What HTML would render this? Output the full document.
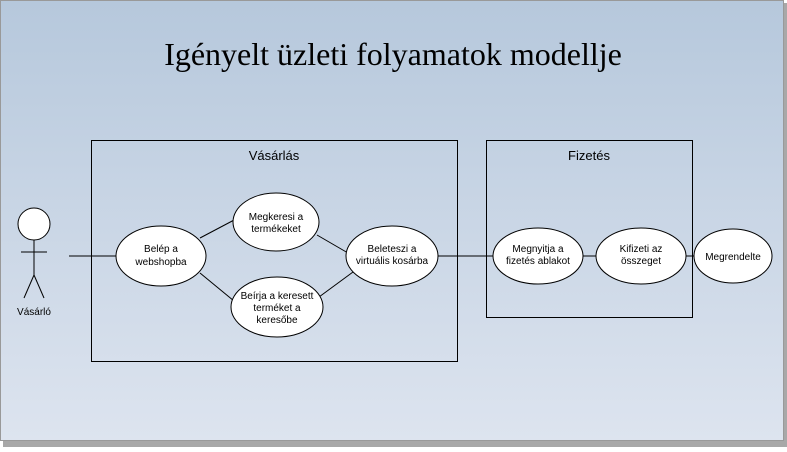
<!DOCTYPE html>
<html><head><meta charset="utf-8"><style>
html,body{margin:0;padding:0;background:#fff;}
</style></head><body>
<svg width="787" height="447" xmlns="http://www.w3.org/2000/svg" font-family="Liberation Sans, sans-serif">
<defs><linearGradient id="g" x1="0" y1="0" x2="0" y2="1">
<stop offset="0" stop-color="#b6c8dc"/><stop offset="1" stop-color="#dde4ef"/></linearGradient></defs>
<rect x="3" y="3" width="784" height="444" fill="#a8a8a8"/>
<rect x="0.5" y="0.5" width="783" height="440" fill="url(#g)" stroke="#999"/>
<text x="393" y="65" text-anchor="middle" font-family="Liberation Serif, serif" font-size="32" fill="#000">Igényelt üzleti folyamatok modellje</text>
<g fill="none" stroke="#000" stroke-width="1">
<rect x="91.5" y="140.5" width="366" height="221"/>
<rect x="486.5" y="140.5" width="206" height="177"/>
<line x1="69" y1="256" x2="117" y2="256"/>
<line x1="200" y1="238" x2="236" y2="219"/>
<line x1="200" y1="273" x2="234" y2="301"/>
<line x1="317" y1="235" x2="348" y2="253"/>
<line x1="319" y1="297" x2="353" y2="272"/>
<line x1="438" y1="256" x2="493" y2="256"/>
<line x1="583" y1="256" x2="596" y2="256"/>
<line x1="686" y1="256" x2="694" y2="256"/>
<circle cx="34" cy="224" r="16" fill="#fff"/>
<line x1="34" y1="240" x2="34" y2="275"/>
<line x1="21" y1="252" x2="47" y2="252"/>
<line x1="34" y1="275" x2="24" y2="298"/>
<line x1="34" y1="275" x2="44" y2="298"/>
</g>
<g fill="#fff" stroke="#000">
<ellipse cx="161" cy="256" rx="45" ry="30"/>
<ellipse cx="276" cy="222" rx="43" ry="29"/>
<ellipse cx="277" cy="307" rx="46" ry="30"/>
<ellipse cx="392" cy="256" rx="46" ry="30"/>
<ellipse cx="538" cy="256" rx="45" ry="28"/>
<ellipse cx="641" cy="256" rx="45" ry="28"/>
<ellipse cx="733" cy="256" rx="39" ry="27"/>
</g>
<g font-size="10" text-anchor="middle" fill="#000">
<text x="274" y="160" font-size="13">Vásárlás</text>
<text x="589" y="160" font-size="13">Fizetés</text>
<text x="34" y="315">Vásárló</text>
<text x="161" y="252">Belép a</text><text x="161" y="265">webshopba</text>
<text x="276" y="220">Megkeresi a</text><text x="276" y="232">termékeket</text>
<text x="277" y="299">Beírja a keresett</text><text x="277" y="311">terméket a</text><text x="277" y="323">keresőbe</text>
<text x="392" y="252">Beleteszi a</text><text x="392" y="264">virtuális kosárba</text>
<text x="538" y="252">Megnyitja a</text><text x="538" y="264">fizetés ablakot</text>
<text x="641" y="252">Kifizeti az</text><text x="641" y="264">összeget</text>
<text x="733" y="260">Megrendelte</text>
</g>
</svg>
</body></html>
